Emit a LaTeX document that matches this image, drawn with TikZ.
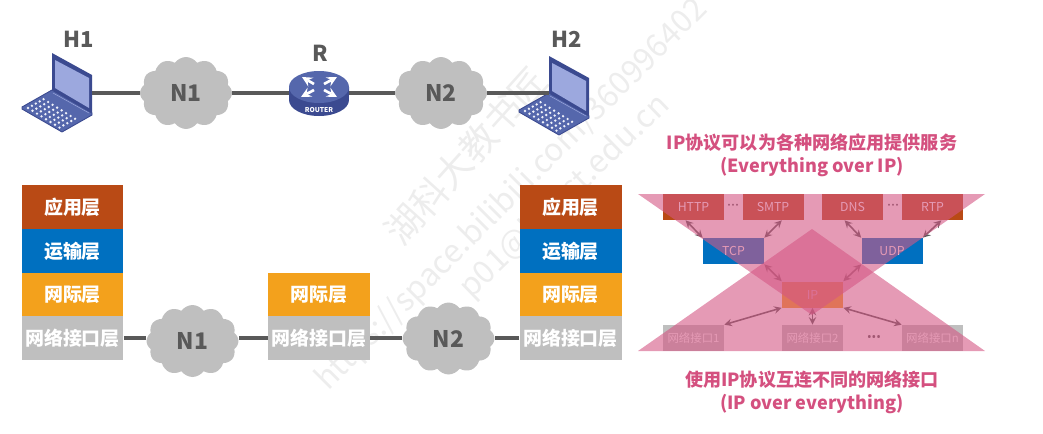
\documentclass[tikz,border=0pt]{standalone}
\usepackage{fontspec}
\setmainfont{Noto Sans CJK SC}
\newfontfamily\dotfont{Noto Sans}
\usetikzlibrary{shapes.symbols}
\definecolor{appc}{HTML}{B94A15}
\definecolor{tranc}{HTML}{0070C0}
\definecolor{netc}{HTML}{F3A11C}
\definecolor{ifc}{HTML}{BFBFBF}
\definecolor{linec}{HTML}{595959}
\definecolor{pinkc}{HTML}{D45784}
\definecolor{titlec}{HTML}{D4507F}
\definecolor{lidc}{HTML}{3B4A90}
\definecolor{basec}{HTML}{5567AC}
\definecolor{scrc}{HTML}{9CA8DE}
\tikzset{
	wm/.style={text=black!7,inner sep=0pt},
	layer/.style={minimum width=2.04cm,minimum height=.87cm,inner sep=0pt,text=white,font=\fontsize{10.8}{12}\selectfont\bfseries},
	net/.style={cloud,cloud puffs=12,cloud puff arc=110,cloud ignores aspect,fill=ifc,minimum width=1.84cm,minimum height=1.44cm,inner sep=0pt,text=linec,font=\fontsize{13}{15}\selectfont\bfseries},
	lbl/.style={inner sep=0pt,text=linec,font=\fontsize{12.5}{15}\selectfont\bfseries},
	wire/.style={linec,line width=1.8pt},
	sbox/.style={minimum width=1.22cm,minimum height=.52cm,inner sep=0pt,text=white,font=\fontsize{7}{8}\selectfont},
	tbox/.style={sbox,font=\fontsize{6.5}{8}\selectfont},
	dots/.style={inner sep=0pt,text=linec},
	link/.style={linec,line width=.9pt,<->,>=stealth},
	tri/.style={fill=pinkc,fill opacity=.6},
	title/.style={inner sep=0pt,text=titlec,font=\fontsize{10.3}{13}\selectfont\bfseries},
	laptop/.pic={
		\coordinate (-east) at (40,40);
		\coordinate (-west) at (0,37);
		\fill[basec,draw=lidc,line width=.5pt,line join=round] (-30,54) -- (0,37) -- (40,60) -- (40,62) -- (10,79) -- (-30,56) -- cycle;
		\foreach \i in {0,...,7}
			\foreach \j in {0,...,4}
				\fill[white!85!scrc] (-24+\i*4.5+\j*3.9,55+\i*2.8-\j*2.2) circle (.75pt);
		\draw[scrc,line width=.3pt] (1,40) -- (37,60);
		\fill[lidc,line join=round] (0,0) -- (40,22) -- (40,60) -- (0,37) -- cycle;
		\fill[scrc] (3,7) -- (37,25) -- (37,55) -- (3,35) -- cycle;
	},
	router/.pic={
		\coordinate (-west) at (-30,6);
		\coordinate (-east) at (30,6);
		\fill[lidc] (-30,0) -- (-30,13) arc[start angle=180,end angle=360,x radius=.6cm,y radius=.32cm] -- (30,0) -- cycle;
		\fill[basec] (0,0) ellipse[x radius=.6cm,y radius=.32cm];
		\draw[white,line width=1.5pt,-stealth] (-5,-3) -- (-17,-10);
		\draw[white,line width=1.5pt,-stealth] (5,-3) -- (18,-10);
		\draw[white,line width=1.5pt,-stealth] (-5,3) -- (-18,10);
		\draw[white,line width=1.5pt,-stealth] (5,3) -- (18,10);
		\node[inner sep=0pt,text=white,font=\fontsize{3.8}{4}\selectfont\bfseries] (-txt) at (0,23) {ROUTER};
	}
}
\begin{document}
\begin{tikzpicture}[x=.02cm,y=-.02cm]
	\useasboundingbox (0,0) rectangle (1043,433);
	% watermark
	\node[wm,rotate=48,font=\fontsize{21}{24}\selectfont] (wm1) at (466,156) {湖科大教书匠};
	\node[wm,rotate=45,font=\fontsize{18}{20}\selectfont] (wm2) at (512,195) {https://space.bilibili.com/360996402};
	\node[wm,rotate=44,font=\fontsize{18}{20}\selectfont] (wm3) at (565,197) {p01@hnust.edu.cn};

	% top row
	\node[lbl] (H1) at (79,39) {H1};
	\node[lbl] (H2) at (567,39) {H2};
	\node[lbl] (Rt) at (320.5,53) {R};
	\pic (L1) at (52,53) {laptop};
	\pic (L2) at (549,56) {laptop};
	\pic (R) at (319,87) {router};
	\node[net] (c1) at (186,93) {N1};
	\node[net] (c2) at (441,93) {N2};
	\draw[wire] (L1-east) -- (c1);
	\draw[wire] (c1) -- (R-west);
	\draw[wire] (R-east) -- (c2);
	\draw[wire] (c2) -- (L2-west);

	% protocol stacks
	\node[layer,fill=appc] (a1) at (72.5,207) {应用层};
	\node[layer,fill=tranc] (a2) at (72.5,251) {运输层};
	\node[layer,fill=netc] (a3) at (72.5,294.5) {网际层};
	\node[layer,fill=ifc] (a4) at (72.5,338) {网络接口层};
	\node[layer,fill=netc] (b3) at (319,294.5) {网际层};
	\node[layer,fill=ifc] (b4) at (319,338) {网络接口层};
	\node[layer,fill=appc] (d1) at (570.5,207) {应用层};
	\node[layer,fill=tranc] (d2) at (570.5,251) {运输层};
	\node[layer,fill=netc] (d3) at (570.5,294.5) {网际层};
	\node[layer,fill=ifc] (d4) at (570.5,338) {网络接口层};
	\node[net] (c3) at (192.5,341) {N1};
	\node[net] (c4) at (448.5,338.5) {N2};
	\draw[wire] (a4.east) -- (a4.east -| c3.west);
	\draw[wire] (b4.west) -- (b4.west -| c3.east);
	\draw[wire] (b4.east) -- (b4.east -| c4.west);
	\draw[wire] (d4.west) -- (d4.west -| c4.east);

	% hourglass
	\node[title] (t1) at (812,143) {IP协议可以为各种网络应用提供服务};
	\node[title] (t2) at (812,167) {(Everything over IP)};
	\node[title] (t3) at (812,380) {使用IP协议互连不同的网络接口};
	\node[title] (t4) at (812,404) {(IP over everything)};

	\node[sbox,fill=appc] (http) at (693.5,207) {HTTP};
	\node[sbox,fill=appc] (smtp) at (773,207) {SMTP};
	\node[sbox,fill=appc] (dns) at (852.5,207) {DNS};
	\node[sbox,fill=appc] (rtp) at (932.5,207) {RTP};
	\node[sbox,fill=tranc] (tcp) at (733.5,251) {TCP};
	\node[sbox,fill=tranc] (udp) at (892,251) {UDP};
	\node[sbox,fill=netc] (ip) at (812.5,294.5) {IP};
	\node[tbox,fill=ifc] (if1) at (693.5,338) {网络接口1};
	\node[tbox,fill=ifc] (if2) at (812.5,338) {网络接口2};
	\node[tbox,fill=ifc] (ifn) at (932.5,338) {网络接口n};
	\node[dots,font=\dotfont\fontsize{8.5}{9}\selectfont] (d1a) at (733,207) {···};
	\node[dots,font=\dotfont\fontsize{8.5}{9}\selectfont] (d2a) at (893,207) {···};
	\node[dots,font=\dotfont\fontsize{7}{8}\selectfont] (d3a) at (874,338) {•••};

	\draw[link] ([xshift=-4.5pt]http.south) -- (tcp.north west);
	\draw[link] ([xshift=5pt]smtp.south) -- (tcp.north east);
	\draw[link] ([xshift=-4.5pt]dns.south) -- (udp.north west);
	\draw[link] ([xshift=5pt]rtp.south) -- (udp.north east);
	\draw[link] (tcp.south east) -- (ip.north west);
	\draw[link] (udp.south west) -- (ip.north east);
	\draw[link] (ip.south west) -- (if1.north east);
	\draw[link] (ip.south) -- (if2.north);
	\draw[link] (ip.south east) -- (ifn.north west);

	\fill[tri] (638,194) -- (985,194) -- (812,315) -- cycle;
	\fill[tri] (638,351) -- (985,351) -- (812,229) -- cycle;
\end{tikzpicture}
\end{document}
